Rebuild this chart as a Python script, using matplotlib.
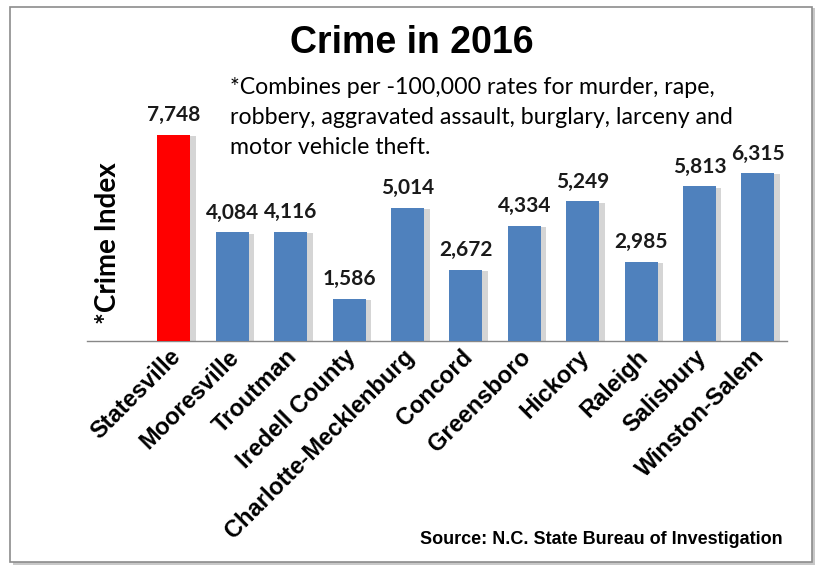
import matplotlib
matplotlib.use("Agg")
import matplotlib.pyplot as plt
import matplotlib.patheffects as pe
from matplotlib.patches import Rectangle
from matplotlib.transforms import ScaledTranslation

cities = [
    "Statesville", "Mooresville", "Troutman", "Iredell County",
    "Charlotte-Mecklenburg", "Concord", "Greensboro", "Hickory",
    "Raleigh", "Salisbury", "Winston-Salem",
]
crime_index = [7748, 4084, 4116, 1586, 5014, 2672, 4334, 5249, 2985, 5813, 6315]
highlight = "Statesville"

title = "Crime in 2016"
note_lines = [
    "*Combines per -100,000 rates for murder, rape,",
    "robbery, aggravated assault, burglary, larceny and",
    "motor vehicle theft.",
]
source = "Source: N.C. State Bureau of Investigation"

W, H = 837, 574
fig = plt.figure(figsize=(W / 100, H / 100), dpi=100)
fig.patch.set_facecolor("white")

# outer frame with soft shadow
fig.patches.append(Rectangle((13 / W, 1 - 565 / H), 802 / W, 557 / H,
                             transform=fig.transFigure, facecolor="#c8c8c8",
                             edgecolor="none", zorder=-2))
fig.patches.append(Rectangle((10 / W, 1 - 562 / H), 802 / W, 555 / H,
                             transform=fig.transFigure, facecolor="white",
                             edgecolor="#8c8c8c", linewidth=1.2, zorder=-1))

base_y = 341
top_y = 60
px_per_unit = (base_y - 135) / 7748.0
ax = fig.add_axes([87 / W, 1 - base_y / H, (787 - 87) / W, (base_y - top_y) / H])
ax.set_facecolor("none")

x = list(range(len(cities)))
colors = ["#ff0000" if c == highlight else "#4f81bd" for c in cities]
bars = ax.bar(x, crime_index, width=0.565, color=colors, zorder=3)
for b in bars:
    b.set_path_effects([
        pe.SimplePatchShadow(offset=(4, -1), shadow_rgbFace="#888888", alpha=0.35),
        pe.Normal(),
    ])

for xi, v in zip(x, crime_index):
    ax.text(xi, v + 360, f"{v:,}", ha="center", va="bottom",
            fontsize=15, fontweight="bold", family="Lato", color="#1a1a1a")

ax.set_xlim(-1.49, 10.50)
ax.set_ylim(0, (base_y - top_y) / px_per_unit)
for s in ["top", "right", "left"]:
    ax.spines[s].set_visible(False)
ax.spines["bottom"].set_color("#888888")
ax.spines["bottom"].set_linewidth(1.0)
ax.set_yticks([])
ax.set_xticks(x)
ax.set_xticklabels(cities, rotation=45, ha="right", va="top",
                   rotation_mode="anchor", fontsize=17, fontweight="bold",
                   family="Liberation Sans")
ax.tick_params(axis="x", length=0, pad=3)
shift = ScaledTranslation(-0.05, 0, fig.dpi_scale_trans)
for lbl in ax.get_xticklabels():
    lbl.set_transform(lbl.get_transform() + shift)

fig.text(108 / W, 1 - 243 / H, "*Crime Index", rotation=90, ha="center",
         va="center", fontsize=20, fontweight="bold", family="Lato")

fig.text(412 / W, 1 - 43 / H, title, ha="center", va="center", fontsize=27,
         fontweight="bold", family="Liberation Sans")

for i, line in enumerate(note_lines):
    fig.text(230 / W, 1 - (88 + 30 * i) / H, line, ha="left", va="center",
             fontsize=16.7, family="Lato")

fig.text(783 / W, 1 - 540 / H, source, ha="right", va="center", fontsize=13,
         fontweight="bold", family="Liberation Sans")

fig.savefig("out.png", dpi=100)
